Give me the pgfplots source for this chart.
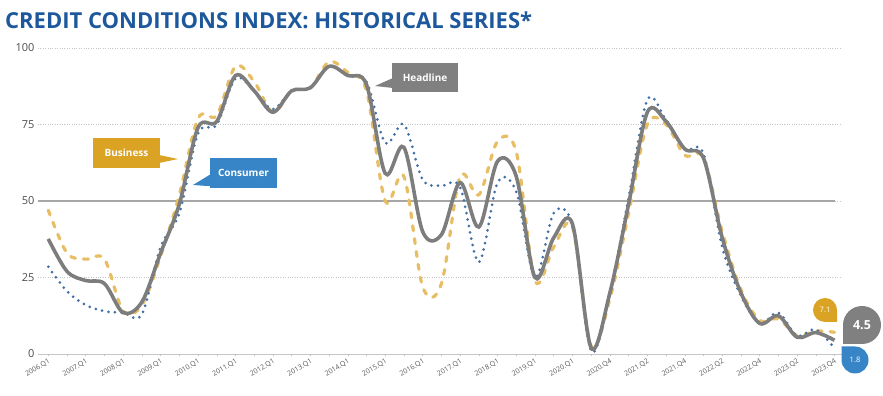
\documentclass[border=0pt]{standalone}
\usepackage{pgfplots}
\pgfplotsset{compat=1.18}
\usepackage{pgfplotstable}
\usepackage{fontspec}
\setmainfont{Open Sans}
\definecolor{headc}{RGB}{125,125,125}
\definecolor{busc}{RGB}{232,190,100}
\definecolor{conc}{RGB}{66,112,165}
\definecolor{busbox}{RGB}{218,163,35}
\definecolor{conbox}{RGB}{55,133,198}
\definecolor{headbox}{RGB}{128,128,128}
\definecolor{titlec}{RGB}{28,88,155}

\pgfplotstableread{
i H B C
0 37.6 47 28.5
1 27 33 20.5
2 24 31 16
3 23 31 14
4 13.5 14 13.5
5 17 16 13
6 33 32 35
7 49 52 46
8 74 77 72
9 76 78 75
10 91 94 90
11 86 89 86
12 79 79 80
13 86 86 86
14 87 87 87
15 94 95.5 94
16 91 92 91
17 88 86 89
18 59 50 69
19 67.5 58 75
20 40 22 57
21 39 23 55
22 56 58 54.5
23 41.5 52 30
24 63 69.5 56
25 58 66 53
26 25 24 25
27 38 35 46
28 42.5 41.5 42
29 2 2.5 1
30 20 18 20
31 49 46 51
32 79 75 83
33 76 75 76.5
34 67 65 67
35 64 64 65.5
36 38 40 35
37 20 21 19
38 10 11 10
39 12.5 11.5 13.5
40 5.5 6 6
41 7 7.5 8
42 4.5 7.1 1.8
}\data

\begin{document}
\begin{tikzpicture}
\path[use as bounding box] (0,0) rectangle (883pt,396pt);
\node[anchor=west, font=\fontsize{22}{24}\selectfont\bfseries, text=titlec, inner sep=0pt] at (5pt,376pt) {CREDIT CONDITIONS INDEX: HISTORICAL SERIES*};
\begin{axis}[at={(38pt,42pt)}, anchor=south west, scale only axis,
  width=804pt, height=306pt,
  xmin=-0.55, xmax=42.4, ymin=0, ymax=100,
  axis x line*=bottom, axis y line*=left,
  y axis line style={draw=none},
  x axis line style={draw=gray!45, line width=0.8pt, -},
  ytick={0,25,50,75,100},
  ymajorgrids, grid style={gray!45, dotted, line width=0.8pt},
  y tick label style={font=\fontsize{11}{12}\selectfont, text=black!70},
  ytick style={draw=none},
  /pgf/number format/assume math mode=true,
  xtick={0,2,...,42},
  minor xtick={1,3,...,41},
  xticklabels={2006.Q1,2007.Q1,2008.Q1,2009.Q1,2010.Q1,2011.Q1,2012.Q1,2013.Q1,2014.Q1,2015.Q1,2016.Q1,2017.Q1,2018.Q1,2019.Q1,2020.Q1,2020.Q4,2021.Q2,2021.Q4,2022.Q2,2022.Q4,2023.Q2,2023.Q4},
  x tick label style={rotate=30, anchor=north east, font=\fontsize{7}{8}\selectfont, text=black!65, inner sep=1pt},
  xtick style={draw=gray!50, line width=0.5pt},
  xtick align=outside, major tick length=2.5pt, minor tick length=2.5pt,
  clip=false]
\addplot[color=gray!70, line width=2.2pt] coordinates {(-0.55,50) (42,50)};
\addplot[color=busc, line width=3.2pt, smooth, tension=0.55, dash pattern=on 5pt off 8pt, line cap=round] table[x=i,y=B]{\data};
\addplot[color=conc, line width=3pt, smooth, tension=0.55, dash pattern=on 0pt off 6.5pt, line cap=round] table[x=i,y=C]{\data};
\addplot[color=headc, line width=3.6pt, smooth, tension=0.55] table[x=i,y=H]{\data};
\end{axis}
% callouts
\fill[busbox] (93pt,228pt) rectangle (160pt,258pt);
\fill[busbox] (159pt,241pt) -- (178pt,237pt) -- (159pt,233pt) -- cycle;
\node[text=white, font=\fontsize{10}{12}\selectfont\bfseries] at (126.5pt,243pt) {Business};
\fill[conbox] (210pt,208pt) rectangle (277pt,238pt);
\fill[conbox] (211pt,222pt) -- (193pt,211pt) -- (222pt,209pt) -- cycle;
\node[text=white, font=\fontsize{10}{12}\selectfont\bfseries] at (243.5pt,223pt) {Consumer};
\fill[headbox] (392pt,304pt) rectangle (458pt,333pt);
\fill[headbox] (393pt,318pt) -- (375pt,310pt) -- (393pt,308pt) -- cycle;
\node[text=white, font=\fontsize{10}{12}\selectfont\bfseries] at (425pt,318.5pt) {Headline};
% end bubbles
\fill[busbox] (825pt,74pt) -- (837pt,74pt) -- (837pt,86pt) arc[start angle=0, end angle=270, radius=12pt] -- cycle;
\node[text=white, font=\fontsize{7.5}{9}\selectfont] at (825pt,86pt) {7.1};
\fill[headbox] (843pt,71pt) -- (843pt,52pt) -- (862pt,52pt) arc[start angle=270, end angle=540, radius=19pt] -- cycle;
\node[text=white, font=\fontsize{12.5}{14}\selectfont\bfseries] at (862pt,71pt) {4.5};
\fill[conbox] (855pt,49.5pt) -- (841.5pt,49.5pt) -- (841.5pt,36pt) arc[start angle=180, end angle=450, radius=13.5pt] -- cycle;
\node[text=white, font=\fontsize{7.5}{9}\selectfont] at (855pt,36pt) {1.8};
\end{tikzpicture}
\end{document}
